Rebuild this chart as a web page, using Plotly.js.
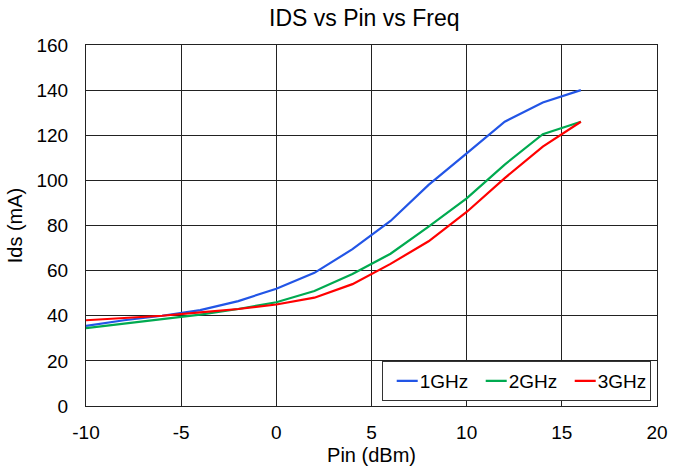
<!DOCTYPE html>
<html>
<head>
<meta charset="utf-8">
<script src="https://cdn.plot.ly/plotly-3.0.1.min.js"></script>
<style>html,body{margin:0;padding:0;background:#fff;}#chart{width:686px;height:469px;}</style>
</head>
<body>
<div id="chart"></div>
<script>
const pin = [-10, -8, -6, -4, -2, 0, 2, 4, 6, 8, 10, 12, 14, 16];
const ids1GHz = [35.5, 38, 40, 42.5, 46.5, 52, 59, 69.5, 82, 98, 112, 126, 134.5, 140];
const ids2GHz = [34.5, 36.5, 38.5, 40.5, 43, 46, 51, 58.5, 67.5, 79.5, 92, 107, 120.5, 126];
const ids3GHz = [38, 39, 40, 41.5, 43, 45, 48, 54, 63, 73, 86, 101, 115, 126];
const seriesNames = ["1GHz", "2GHz", "3GHz"];
const xTickVals = [-10, -5, 0, 5, 10, 15, 20];
const xTickText = ["-10", "-5", "0", "5", "10", "15", "20"];
const colors = ["#2255e6", "#00aa50", "#ff0000"];

const font = "Liberation Sans, Arial, sans-serif";
const data = [ids1GHz, ids2GHz, ids3GHz].map((y, i) => ({
  x: pin, y: y, type: "scatter", mode: "lines", name: seriesNames[i],
  line: {color: colors[i], width: 2.2}
}));

const axisCommon = {
  showline: true, linecolor: "#222", linewidth: 1, mirror: true,
  showgrid: true, gridcolor: "#222", gridwidth: 1, zeroline: false,
  ticks: "", tickfont: {family: font, size: 19, color: "#000"}
};

const layout = {
  width: 686, height: 469,
  margin: {l: 86, r: 29, t: 45, b: 63},
  paper_bgcolor: "#fff", plot_bgcolor: "#fff",
  title: {text: "IDS vs Pin vs Freq", font: {family: font, size: 23, color: "#000"}, x: 0.531, xanchor: "center", y: 0.978, yanchor: "top"},
  xaxis: Object.assign({}, axisCommon, {range: [-10, 20], tickmode: "array", tickvals: xTickVals, ticktext: xTickText, ticklabelstandoff: 9,
    title: {text: "Pin (dBm)", font: {family: font, size: 20, color: "#000"}, standoff: 6}}),
  yaxis: Object.assign({}, axisCommon, {range: [0, 160], dtick: 20, ticklabelstandoff: 13,
    title: {text: "Ids (mA)", font: {family: font, size: 20, color: "#000"}, standoff: 8}}),
  showlegend: true,
  legend: {orientation: "h", x: 0.989, xanchor: "right", y: 0.014, yanchor: "bottom",
    bgcolor: "#fff", bordercolor: "#333", borderwidth: 1,
    font: {family: font, size: 19, color: "#000"}, itemwidth: 30, entrywidth: 44, entrywidthmode: "pixels", tracegroupgap: 0}
};

Plotly.newPlot("chart", data, layout, {displayModeBar: false, staticPlot: true}).then(gd => {
  gd.querySelectorAll(".legendlines path").forEach(p => p.setAttribute("d", "M14,0h21"));
  gd.querySelectorAll(".legendtext").forEach(t => t.setAttribute("x", "37"));
});
</script>
</body>
</html>
